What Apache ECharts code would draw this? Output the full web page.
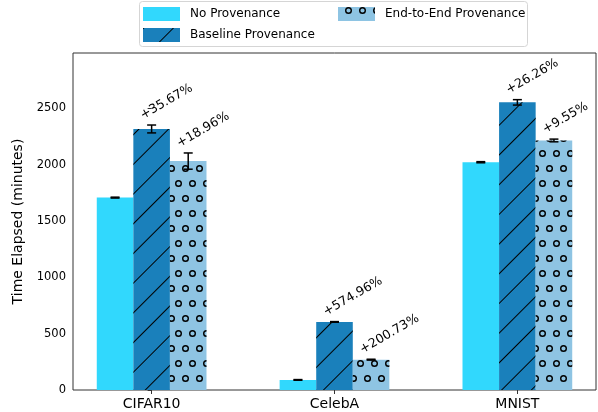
<!DOCTYPE html>
<html>
<head>
<meta charset="utf-8">
<script src="https://cdn.jsdelivr.net/npm/echarts@6/dist/echarts.min.js"></script>
<style>
html, body { margin: 0; padding: 0; background: #fff; }
#chart { width: 598px; height: 412px; }
</style>
</head>
<body>
<div id="chart"></div>
<script>
// 数据
var categories = ['CIFAR10', 'CelebA', 'MNIST'];
var seriesNames = ['No Provenance', 'Baseline Provenance', 'End-to-End Provenance'];
var noProv = [1707, 89.5, 2021];
var noProvErr = [4, 3, 5];
var baseProv = [2316, 604, 2552];
var baseProvErr = [35, 3, 24];
var e2eProv = [2031, 269, 2214];
var e2eProvErr = [72, 4, 12];
var baseLabels = ['+35.67%', '+574.96%', '+26.26%'];
var e2eLabels = ['+18.96%', '+200.73%', '+9.55%'];
var yTicks = [0, 500, 1000, 1500, 2000, 2500];
var xTicks = [0, 1, 2];

var colors = ['#31d8fd', '#1a80bb', '#8ec4e3'];
var offsets = [-0.2, 0, 0.2];
var font = '"DejaVu Sans", sans-serif';

var myChart = echarts.init(document.getElementById('chart'));

function barData(vals) {
    return vals.map(function (v, i) { return [i, v]; });
}
function errData(vals, errs, k) {
    return vals.map(function (v, i) { return [i + offsets[k], v, errs[i]]; });
}

// 误差线 + 百分比标注
function makeErrRender(labels) {
    return function (params, api) {
        var x = api.value(0), y = api.value(1), e = api.value(2);
        var top = api.coord([x, y + e]);
        var bot = api.coord([x, y - e]);
        var cap = 4.5;
        var ls = { stroke: '#000', lineWidth: 1.5 };
        var children = [
            { type: 'line', shape: { x1: top[0], y1: top[1], x2: bot[0], y2: bot[1] }, style: ls },
            { type: 'line', shape: { x1: top[0] - cap, y1: top[1], x2: top[0] + cap, y2: top[1] }, style: ls },
            { type: 'line', shape: { x1: bot[0] - cap, y1: bot[1], x2: bot[0] + cap, y2: bot[1] }, style: ls }
        ];
        if (labels) {
            children.push({
                type: 'text',
                x: top[0] - 7,
                y: top[1] - 3,
                rotation: Math.PI / 6,
                style: {
                    text: labels[params.dataIndex],
                    fill: '#000',
                    font: '12.5px ' + font,
                    align: 'left',
                    verticalAlign: 'bottom'
                }
            });
        }
        return { type: 'group', children: children };
    };
}

var hatchDecal = {
    symbol: 'rect',
    symbolSize: 1,
    dashArrayX: [1, 0],
    dashArrayY: [0.9, 19.1],
    rotation: -Math.PI / 4,
    color: '#000'
};
var ringDecal = {
    symbol: 'path://M0,-10A10,10,0,1,1,0,10A10,10,0,1,1,0,-10ZM0,-6A6,6,0,1,0,0,6A6,6,0,1,0,0,-6Z',
    symbolSize: 1,
    symbolKeepAspect: true,
    dashArrayX: [[7, 7], [0, 7, 7, 0]],
    dashArrayY: [7, 7.3],
    color: '#000'
};

var option = {
    animation: false,
    textStyle: { fontFamily: font },
    graphic: [{
        type: 'rect',
        z: 1,
        shape: { x: 139.5, y: 1.5, width: 388, height: 45, r: 3 },
        style: { fill: '#fff', stroke: '#d5d5d5', lineWidth: 1 }
    }],
    legend: [{
        data: [seriesNames[0], seriesNames[1]],
        orient: 'vertical',
        left: 143, top: 7,
        padding: 0,
        itemWidth: 37, itemHeight: 14, itemGap: 7,
        icon: 'rect',
        textStyle: { fontSize: 12, color: '#000', padding: [0, 0, 0, 5] }
    }, {
        data: [seriesNames[2]],
        orient: 'vertical',
        left: 338, top: 7,
        padding: 0,
        itemWidth: 37, itemHeight: 14,
        icon: 'rect',
        textStyle: { fontSize: 12, color: '#000', padding: [0, 0, 0, 5] }
    }],
    grid: {
        left: 73, top: 53, width: 523, height: 337,
        show: true, borderColor: '#333', borderWidth: 1,
        backgroundColor: 'transparent'
    },
    xAxis: {
        type: 'value',
        min: -0.43, max: 2.43,
        axisLine: { show: false },
        splitLine: { show: false },
        axisTick: { show: true, length: 4, customValues: xTicks, lineStyle: { color: '#333' } },
        axisLabel: {
            customValues: xTicks,
            formatter: function (v) { return categories[Math.round(v)]; },
            fontSize: 14, color: '#000', margin: 7
        }
    },
    yAxis: {
        type: 'value',
        min: 0, max: 2990,
        name: 'Time Elapsed (minutes)',
        nameLocation: 'middle',
        nameGap: 34,
        nameTextStyle: { fontSize: 14, color: '#000' },
        axisLine: { show: false },
        splitLine: { show: false },
        axisTick: { show: true, length: 4, customValues: yTicks, lineStyle: { color: '#333' } },
        axisLabel: {
            customValues: yTicks,
            formatter: function (v) { return String(v); },
            fontSize: 11.5, color: '#000', margin: 7
        }
    },
    series: [
        { name: seriesNames[0], type: 'bar', data: barData(noProv), barWidth: '20%', barGap: '0%',
          itemStyle: { color: colors[0] } },
        { name: seriesNames[1], type: 'bar', data: barData(baseProv), barWidth: '20%', barGap: '0%',
          itemStyle: { color: colors[1], decal: hatchDecal } },
        { name: seriesNames[2], type: 'bar', data: barData(e2eProv), barWidth: '20%', barGap: '0%',
          itemStyle: { color: colors[2], decal: ringDecal } },
        { type: 'custom', data: errData(noProv, noProvErr, 0), renderItem: makeErrRender(null), z: 5 },
        { type: 'custom', data: errData(baseProv, baseProvErr, 1), renderItem: makeErrRender(baseLabels), z: 5 },
        { type: 'custom', data: errData(e2eProv, e2eProvErr, 2), renderItem: makeErrRender(e2eLabels), z: 5 }
    ]
};

myChart.setOption(option);
</script>
</body>
</html>
